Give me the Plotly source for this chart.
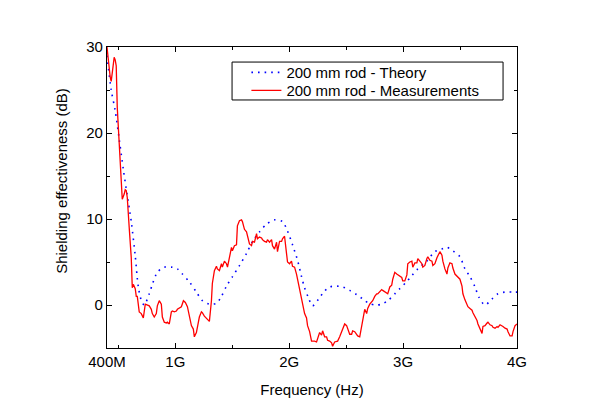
import plotly.graph_objects as go

# Theory curve (frequency in GHz, shielding effectiveness in dB)
theory_f = [0.400, 0.437, 0.472, 0.507, 0.543, 0.578, 0.613, 0.648, 0.674, 0.700,
            0.727, 0.771, 0.798, 0.842, 0.903, 0.965, 1.018, 1.062, 1.123, 1.185,
            1.238, 1.299, 1.361, 1.405, 1.449, 1.502, 1.564, 1.625, 1.678, 1.739,
            1.801, 1.871, 1.941, 1.985, 2.029, 2.073, 2.108, 2.135, 2.170, 2.205,
            2.258, 2.302, 2.355, 2.417, 2.470, 2.531, 2.593, 2.645, 2.698, 2.760,
            2.812, 2.865, 2.927, 2.971, 3.023, 3.076, 3.129, 3.208, 3.279, 3.340,
            3.384, 3.437, 3.499, 3.543, 3.587, 3.631, 3.666, 3.719, 3.780, 3.833,
            3.895, 3.965, 4.000]
theory_db = [29.0, 25.0, 22.6, 19.3, 15.8, 12.7, 9.7, 5.7, 2.2, 0.6,
             0.0, 1.3, 2.4, 3.8, 4.4, 4.4, 4.2, 3.6, 2.7, 1.5,
             0.5, 0.1, 0.2, 1.0, 2.2, 3.3, 4.6, 6.0, 7.4, 8.5,
             9.4, 9.9, 9.7, 8.6, 7.0, 5.2, 3.3, 2.0, 0.8, -0.1,
             0.7, 1.5, 2.1, 2.2, 2.1, 1.7, 1.2, 0.7, 0.2, 0.0,
             0.1, 0.5, 1.3, 1.9, 2.6, 3.4, 4.2, 5.1, 6.2, 6.5,
             6.7, 6.3, 5.6, 4.2, 3.3, 2.1, 0.9, 0.0, 0.7, 1.3,
             1.5, 1.5, 1.5]

# Measurements (frequency in GHz, shielding effectiveness in dB)
meas_f = [0.400, 0.411, 0.428, 0.437, 0.446, 0.463, 0.472, 0.481, 0.490, 0.507,
          0.516, 0.525, 0.534, 0.551, 0.560, 0.569, 0.578, 0.595, 0.613, 0.622,
          0.631, 0.648, 0.657, 0.666, 0.683, 0.701, 0.719, 0.736, 0.754, 0.771,
          0.789, 0.798, 0.815, 0.833, 0.842, 0.859, 0.877, 0.886, 0.903, 0.921,
          0.930, 0.947, 0.965, 0.974, 0.991, 1.009, 1.018, 1.035, 1.053, 1.071,
          1.088, 1.106, 1.115, 1.132, 1.141, 1.158, 1.167, 1.185, 1.193, 1.211,
          1.229, 1.237, 1.255, 1.281, 1.299, 1.317, 1.325, 1.343, 1.361, 1.369,
          1.387, 1.405, 1.413, 1.431, 1.449, 1.458, 1.475, 1.493, 1.501, 1.519,
          1.537, 1.545, 1.563, 1.581, 1.589, 1.607, 1.625, 1.633, 1.651, 1.669,
          1.677, 1.695, 1.713, 1.721, 1.739, 1.757, 1.765, 1.783, 1.801, 1.809,
          1.827, 1.845, 1.853, 1.871, 1.889, 1.897, 1.915, 1.933, 1.941, 1.959,
          1.977, 1.985, 2.003, 2.020, 2.029, 2.047, 2.064, 2.073, 2.091, 2.108,
          2.117, 2.135, 2.152, 2.161, 2.179, 2.196, 2.205, 2.223, 2.240, 2.249,
          2.267, 2.284, 2.293, 2.311, 2.328, 2.337, 2.355, 2.372, 2.381, 2.399,
          2.416, 2.425, 2.443, 2.460, 2.469, 2.487, 2.504, 2.513, 2.531, 2.548,
          2.557, 2.575, 2.592, 2.601, 2.619, 2.636, 2.645, 2.663, 2.680, 2.689,
          2.707, 2.724, 2.733, 2.751, 2.768, 2.777, 2.795, 2.812, 2.821, 2.839,
          2.856, 2.865, 2.883, 2.900, 2.909, 2.927, 2.944, 2.953, 2.971, 2.988,
          2.997, 3.015, 3.033, 3.041, 3.059, 3.077, 3.085, 3.103, 3.121, 3.129,
          3.147, 3.165, 3.173, 3.191, 3.209, 3.217, 3.235, 3.253, 3.261, 3.279,
          3.297, 3.305, 3.323, 3.341, 3.349, 3.367, 3.385, 3.393, 3.411, 3.429,
          3.437, 3.455, 3.473, 3.481, 3.499, 3.517, 3.525, 3.543, 3.561, 3.569,
          3.587, 3.605, 3.613, 3.631, 3.649, 3.657, 3.675, 3.693, 3.701, 3.719,
          3.737, 3.745, 3.763, 3.781, 3.789, 3.807, 3.825, 3.833, 3.851, 3.869,
          3.877, 3.895, 3.913, 3.921, 3.939, 3.957, 3.965, 3.983, 4.000]
meas_db = [30.0, 28.5, 26.5, 26.0, 27.0, 28.8, 28.5, 27.8, 23.0, 19.3,
           17.5, 15.5, 12.3, 12.9, 13.4, 13.3, 12.5, 9.0, 5.5, 2.0,
           2.4, 1.9, 1.0, 1.0, -0.8, -1.0, -1.5, 0.1, 0.0, -0.1,
           -0.5, -1.0, -1.4, -1.0, -0.1, 0.5, 0.1, -1.4, -2.0, -2.1,
           -2.0, -2.2, -0.8, -0.7, -0.8, -0.7, -0.5, -0.3, -0.2, 0.5,
           0.3, -0.2, -0.7, -1.6, -2.4, -2.8, -3.7, -3.2, -2.5, -1.4,
           -0.8, -0.9, -1.3, -1.6, -1.9, 0.5, 2.5, 4.0, 4.5, 4.2,
           4.0, 4.8, 4.4, 5.1, 4.8, 4.4, 5.7, 6.7, 6.3, 6.9,
           7.0, 9.2, 9.8, 9.9, 9.7, 8.8, 8.5, 8.0, 7.1, 6.9,
           7.4, 7.3, 8.3, 7.7, 7.9, 7.8, 7.6, 7.4, 7.3, 7.6,
           7.3, 7.6, 6.9, 6.5, 7.3, 6.2, 7.4, 7.4, 7.7, 8.0,
           5.3, 5.0, 4.8, 5.1, 4.5, 4.4, 3.6, 3.0, 1.9, 0.7,
           0.5, -1.0, -1.5, -2.4, -3.1, -4.2, -4.2, -4.2, -4.3, -4.0,
           -3.2, -3.5, -3.0, -3.7, -3.7, -4.1, -4.2, -4.4, -4.8, -4.3,
           -4.2, -4.2, -3.7, -3.1, -2.6, -2.2, -2.4, -2.8, -3.4, -3.4,
           -3.0, -3.1, -3.4, -3.6, -3.7, -2.4, -1.6, -0.5, -1.0, -0.4,
           0.1, 0.3, 0.5, 1.0, 1.3, 1.3, 1.6, 1.8, 1.7, 1.5,
           1.4, 1.3, 2.1, 2.3, 3.0, 3.8, 3.6, 3.5, 3.4, 3.2,
           2.8, 2.8, 3.5, 4.8, 5.0, 5.1, 4.4, 4.9, 4.9, 5.4,
           5.1, 4.8, 4.4, 4.6, 5.4, 5.6, 5.2, 5.1, 4.6, 4.8,
           5.5, 5.7, 6.2, 5.8, 5.1, 4.2, 3.6, 4.3, 4.9, 4.8,
           4.3, 3.6, 3.4, 3.3, 3.0, 2.2, 1.3, 0.6, -0.1, -0.2,
           -0.4, -0.6, -0.9, -1.3, -1.8, -2.2, -2.8, -3.3, -2.5, -2.4,
           -2.1, -2.0, -2.3, -2.4, -2.6, -2.7, -2.5, -2.6, -2.3, -2.4,
           -2.5, -2.7, -2.8, -3.1, -3.6, -3.6, -3.1, -2.4, -2.2]

x_tickvals = [0.4, 1, 2, 3, 4]
x_ticktext = ["400M", "1G", "2G", "3G", "4G"]
x_minor = [0.5, 1.5, 2.5, 3.5]
y_tickvals = [0, 10, 20, 30]
y_minor = [-5, 5, 15, 25]

FONT = "Liberation Sans, Arial, sans-serif"
FS = 15

fig = go.Figure()
fig.add_trace(go.Scatter(
    x=theory_f, y=theory_db, mode="lines", name="200 mm rod - Theory",
    line=dict(color="#0000FF", width=1.6, dash="1.6px,5px", shape="spline", smoothing=0.8),
    legend="legend",
))
fig.add_trace(go.Scatter(
    x=meas_f, y=meas_db, mode="lines", name="200 mm rod - Measurements",
    line=dict(color="#FF0000", width=1.3),
    legend="legend2",
))

axis_common = dict(
    showline=True, linecolor="black", linewidth=1.3, mirror="allticks",
    ticks="inside", ticklen=5, tickwidth=1.2, tickcolor="black",
    showgrid=False, zeroline=False,
    tickfont=dict(family=FONT, size=FS, color="black"),
)

fig.update_xaxes(
    range=[0.4, 4.0], tickmode="array", tickvals=x_tickvals, ticktext=x_ticktext,
    minor=dict(tickmode="array", tickvals=x_minor, ticks="inside", ticklen=3,
               tickwidth=1.2, tickcolor="black", showgrid=False),
    title=dict(text="Frequency (Hz)", font=dict(family=FONT, size=FS, color="black"), standoff=15),
    **axis_common,
)
fig.update_yaxes(
    range=[-5, 30], tickmode="array", tickvals=y_tickvals,
    minor=dict(tickmode="array", tickvals=y_minor, ticks="inside", ticklen=3,
               tickwidth=1.2, tickcolor="black", showgrid=False),
    **axis_common,
)

# Y axis title, placed like the reference (slightly above the axis centre)
fig.add_annotation(
    text="Shielding effectiveness (dB)", textangle=-90,
    xref="paper", yref="paper", x=-0.110, y=0.555,
    xanchor="center", yanchor="middle", showarrow=False,
    font=dict(family=FONT, size=FS, color="black"),
)

# Legend frame
fig.add_shape(
    type="rect", xref="paper", yref="paper",
    x0=0.305, x1=0.966, y0=0.824, y1=0.950,
    line=dict(color="black", width=1), fillcolor="white", layer="below",
)

legend_common = dict(
    xanchor="left", yanchor="middle", bgcolor="rgba(0,0,0,0)", borderwidth=0,
    font=dict(family=FONT, size=FS, color="black"), itemwidth=30,
)

# The page places the figure 8 px from the top-left corner.
fig.update_layout(
    width=592, height=411,
    margin=dict(l=99, r=83, t=39, b=71),
    paper_bgcolor="white", plot_bgcolor="white",
    font=dict(family=FONT, size=FS, color="black"),
    legend=dict(x=0.340, y=0.915, **legend_common),
    legend2=dict(x=0.340, y=0.855, **legend_common),
    showlegend=True,
)

fig.write_html("out.html")
